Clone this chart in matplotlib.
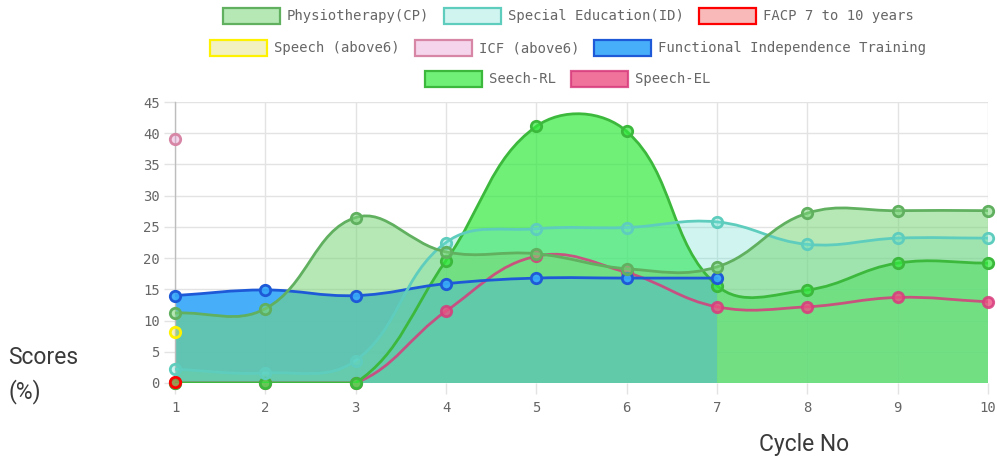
import numpy as np
import matplotlib
matplotlib.use("Agg")
import matplotlib.pyplot as plt
from matplotlib.path import Path
from matplotlib.patches import PathPatch, Rectangle

# ---------------- data ----------------
cycles = [1, 2, 3, 4, 5, 6, 7, 8, 9, 10]
physio_cp = [11.2, 11.9, 26.5, 21.0, 20.7, 18.3, 18.6, 27.2, 27.6, 27.6]
special_ed = [2.2, 1.6, 3.6, 22.5, 24.7, 24.9, 25.8, 22.2, 23.2, 23.2]
facp = [0.2]
speech_above6 = [8.1]
icf_above6 = [39.0]
fit = [14.0, 14.9, 14.0, 15.9, 16.8, 16.8, 16.8]
seech_rl = [0, 0, 0, 19.6, 41.1, 40.3, 15.6, 14.9, 19.2, 19.2]
speech_el = [0, 0, 0, 11.5, 20.3, 17.7, 12.2, 12.2, 13.7, 13.0]

labels = ["Physiotherapy(CP)", "Special Education(ID)", "FACP 7 to 10 years",
          "Speech (above6)", "ICF (above6)", "Functional Independence Training",
          "Seech-RL", "Speech-EL"]
series = [physio_cp, special_ed, facp, speech_above6, icf_above6, fit, seech_rl, speech_el]
y_ticks = [0, 5, 10, 15, 20, 25, 30, 35, 40, 45]


def rgb(r, g, b, a=1.0):
    return (r / 255, g / 255, b / 255, a)


borders = [rgb(96, 176, 96), rgb(95, 205, 190), rgb(255, 0, 0), rgb(255, 242, 0),
           rgb(215, 135, 165), rgb(30, 90, 215), rgb(60, 185, 60), rgb(215, 60, 125, 0.85)]
bgs = [rgb(120, 214, 120, 0.55), rgb(100, 225, 210, 0.3), rgb(240, 80, 80, 0.4),
       rgb(220, 220, 100, 0.4), rgb(230, 150, 205, 0.4), rgb(55, 168, 250, 0.92),
       rgb(51, 234, 62, 0.7), rgb(235, 80, 130, 0.8)]
fills = [True, True, True, True, True, True, True, False]

W, H = 997, 462
fig = plt.figure(figsize=(W / 100, H / 100), dpi=100)
L, R, T, B = 175, 988, 102, 383
ax = fig.add_axes([L / W, 1 - B / H, (R - L) / W, (B - T) / H])
ax.set_xlim(1, 10)
ax.set_ylim(0, 45)

grid_c = "#e3e3e3"
ax.set_xticks(cycles)
ax.set_yticks(y_ticks)
ax.grid(True, color=grid_c, lw=1.0, zorder=0)
ax.set_axisbelow(True)
for s in ["top", "right", "bottom"]:
    ax.spines[s].set_visible(False)
ax.spines["left"].set_color("#bdbdbd")
ax.spines["left"].set_linewidth(1.0)
ax.tick_params(axis="both", length=8, color=grid_c, width=1.0,
               labelcolor="#666666", labelsize=10)
ax.tick_params(axis="x", pad=5)
ax.tick_params(axis="y", pad=3)
for lab in ax.get_xticklabels() + ax.get_yticklabels():
    lab.set_family("DejaVu Sans Mono")
ax.axhline(0, color="#d0d0d0", lw=1.0, zorder=0.5)

fig.canvas.draw()
trans = ax.transData
inv = trans.inverted()
bb = ax.bbox


def spline(xs, ys, t=0.4):
    pts = trans.transform(np.column_stack([xs, ys]))
    n = len(pts)
    cpp, cpn = [], []
    for i in range(n):
        cur = pts[i]
        prv = pts[i - 1] if i > 0 else cur
        nxt = pts[i + 1] if i < n - 1 else cur
        d01 = np.hypot(*(cur - prv))
        d12 = np.hypot(*(nxt - cur))
        tot = d01 + d12
        s01 = d01 / tot if tot > 0 else 0
        s12 = d12 / tot if tot > 0 else 0
        a = cur - t * s01 * (nxt - prv)
        b = cur + t * s12 * (nxt - prv)
        a = np.array([np.clip(a[0], bb.x0, bb.x1), np.clip(a[1], bb.y0, bb.y1)])
        b = np.array([np.clip(b[0], bb.x0, bb.x1), np.clip(b[1], bb.y0, bb.y1)])
        cpp.append(a)
        cpn.append(b)
    verts = [pts[0]]
    codes = [Path.MOVETO]
    for i in range(1, n):
        verts += [cpn[i - 1], cpp[i], pts[i]]
        codes += [Path.CURVE4] * 3
    verts = inv.transform(np.array(verts))
    return verts, codes


nser = len(series)
# fills first (all below lines), last dataset at the bottom
for idx in range(nser - 1, -1, -1):
    ys = series[idx]
    xs = cycles[:len(ys)]
    if len(ys) > 1 and fills[idx]:
        verts, codes = spline(xs, ys)
        fv = list(verts) + [(xs[-1], 0), (xs[0], 0), (xs[0], 0)]
        fc = list(codes) + [Path.LINETO, Path.LINETO, Path.CLOSEPOLY]
        ax.add_patch(PathPatch(Path(fv, fc), facecolor=bgs[idx], edgecolor="none",
                               zorder=1 + (nser - idx) * 0.1))
# lines and points
for idx in range(nser - 1, -1, -1):
    ys = series[idx]
    xs = cycles[:len(ys)]
    z = 3 + (nser - idx) * 2
    if len(ys) > 1:
        verts, codes = spline(xs, ys)
        ax.add_patch(PathPatch(Path(verts, codes), facecolor="none",
                               edgecolor=borders[idx], lw=2.0, zorder=z,
                               capstyle="round", joinstyle="round"))
    ax.plot(xs, ys, ls="none", marker="o", ms=7.5, mfc=bgs[idx], mec=borders[idx],
            mew=2.0, zorder=z + 1, clip_on=False)

# ---------------- legend ----------------
rows = [[0, 1, 2], [3, 4, 5], [6, 7]]
row_y = [16, 48, 79]
center_x = 568
box_w, box_h = 57, 16
gap_box_text = 7
gap_items = 15
renderer = fig.canvas.get_renderer()
for r, items in enumerate(rows):
    widths = []
    texts = []
    for i in items:
        t = fig.text(0, 0, labels[i], family="DejaVu Sans Mono", fontsize=10,
                     color="#666666", va="center", ha="left")
        texts.append(t)
        widths.append(t.get_window_extent(renderer).width)
    total = sum(box_w + gap_box_text + w for w in widths) + gap_items * (len(items) - 1)
    x = center_x - total / 2
    yc = row_y[r]
    for j, i in enumerate(items):
        fig.patches.append(Rectangle((x / W, 1 - (yc + box_h / 2) / H), box_w / W, box_h / H,
                                     transform=fig.transFigure, facecolor=bgs[i],
                                     edgecolor=borders[i], lw=1.6))
        texts[j].set_position(((x + box_w + gap_box_text) / W, 1 - yc / H))
        x += box_w + gap_box_text + widths[j] + gap_items

# ---------------- axis titles ----------------
for txt, px, py in [("Scores", 8, 357), ("(%)", 8, 392), ("Cycle No", 759, 444)]:
    fig.text(px / W, 1 - py / H, txt, family="Roboto", fontsize=16.5, color="#3a3a3a",
             va="center", ha="left", fontweight="normal")

fig.savefig("out.png", dpi=100)
